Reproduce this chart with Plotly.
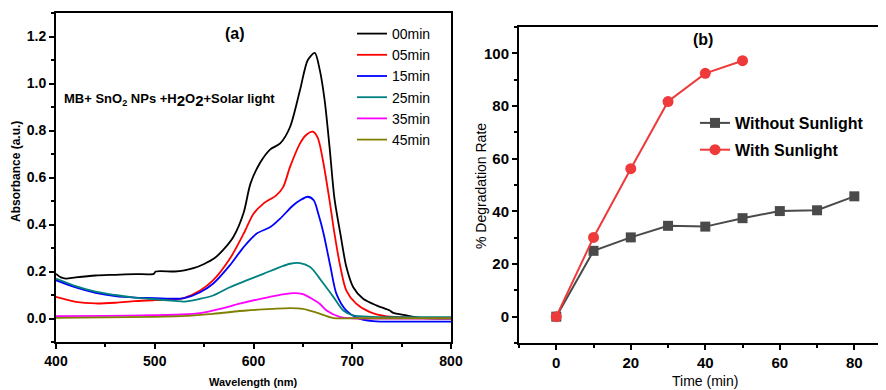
import plotly.graph_objects as go

# ---------------- Panel (a) data: UV-Vis spectra ----------------
series_names = ["00min", "05min", "15min", "25min", "35min", "45min"]
series_colors = ["#000000", "#ff0000", "#0000ff", "#008080", "#ff00ff", "#808000"]

wl_00 = [400, 405, 410, 420, 440, 460, 480, 499, 501, 520, 530, 540, 550, 560, 570, 580, 590, 597, 607, 617,
         627, 637, 647, 655, 662, 667, 672, 677, 682, 688, 694, 701, 711, 725, 738, 741, 755, 769, 785, 800]
ab_00 = [0.19, 0.175, 0.17, 0.175, 0.183, 0.186, 0.189, 0.19, 0.20, 0.20, 0.205, 0.215, 0.232, 0.255, 0.295,
         0.35, 0.45, 0.575, 0.665, 0.72, 0.745, 0.815, 0.97, 1.10, 1.13, 1.06, 0.93, 0.73, 0.51, 0.36, 0.22,
         0.133, 0.084, 0.055, 0.034, 0.025, 0.013, 0.003, 0.0, 0.0]

wl_05 = [400, 420, 440, 460, 480, 500, 520, 530, 546, 559, 576, 590, 600, 610, 623, 630, 637, 647, 653, 660,
         665, 670, 677, 682, 688, 694, 704, 718, 735, 760, 800]
ab_05 = [0.092, 0.071, 0.064, 0.067, 0.074, 0.078, 0.081, 0.088, 0.119, 0.162, 0.254, 0.361, 0.446, 0.489,
         0.524, 0.559, 0.645, 0.744, 0.78, 0.795, 0.77, 0.68, 0.503, 0.361, 0.219, 0.119, 0.063, 0.027, 0.009,
         0.004, 0.003]

wl_15 = [400, 420, 440, 460, 480, 500, 520, 530, 546, 559, 576, 590, 603, 617, 627, 640, 648, 655, 661, 666,
         671, 678, 684, 694, 705, 721, 760, 800]
ab_15 = [0.163, 0.132, 0.109, 0.095, 0.089, 0.087, 0.084, 0.087, 0.112, 0.148, 0.226, 0.304, 0.361, 0.389,
         0.425, 0.481, 0.505, 0.518, 0.503, 0.44, 0.361, 0.219, 0.105, 0.034, 0.003, -0.011, -0.013, -0.013]

wl_25 = [400, 420, 440, 460, 480, 500, 520, 530, 546, 559, 576, 593, 610, 627, 637, 647, 657, 661, 666, 671,
         681, 691, 701, 720, 800]
ab_25 = [0.17, 0.138, 0.114, 0.1, 0.089, 0.082, 0.075, 0.072, 0.084, 0.098, 0.133, 0.162, 0.19, 0.219, 0.233,
         0.236, 0.22, 0.204, 0.176, 0.148, 0.091, 0.034, 0.013, 0.007, 0.006]

wl_35 = [400, 450, 500, 526, 546, 566, 586, 607, 627, 640, 650, 660, 667, 674, 688, 700, 800]
ab_35 = [0.01, 0.011, 0.014, 0.017, 0.023, 0.041, 0.063, 0.084, 0.101, 0.108, 0.104, 0.082, 0.063, 0.034,
         0.006, 0.001, 0.0]

wl_45 = [400, 500, 526, 559, 593, 620, 637, 650, 664, 681, 700, 800]
ab_45 = [0.003, 0.007, 0.01, 0.02, 0.034, 0.041, 0.044, 0.041, 0.025, 0.002, 0.001, 0.001]

spectra_x = [wl_00, wl_05, wl_15, wl_25, wl_35, wl_45]
spectra_y = [ab_00, ab_05, ab_15, ab_25, ab_35, ab_45]

# ---------------- Panel (b) data: degradation ----------------
time_without = [0, 10, 20, 30, 40, 50, 60, 70, 80]
deg_without = [0, 25.0, 30.1, 34.5, 34.2, 37.4, 40.1, 40.4, 45.7]
time_with = [0, 10, 20, 30, 40, 50]
deg_with = [0, 30.1, 56.2, 81.7, 92.4, 97.2]

# The page body has a default 8px margin, so the figure is drawn 8px smaller
# and every position below is given in screen pixels minus that offset.
OFF = 8
W, H = 886 - OFF, 390 - OFF


def px(x):
    return (x - OFF) / W


def py(y):
    return 1 - (y - OFF) / H


fig = go.Figure()

for name, col, xs, ys in zip(series_names, series_colors, spectra_x, spectra_y):
    fig.add_trace(go.Scatter(
        x=xs, y=ys, mode="lines", name=name,
        line=dict(color=col, width=1.8, shape="spline", smoothing=0.8),
        xaxis="x", yaxis="y", legend="legend",
    ))

fig.add_trace(go.Scatter(
    x=time_without, y=deg_without, mode="lines+markers", name="Without Sunlight",
    line=dict(color="#4a4a4a", width=2),
    marker=dict(symbol="square", size=10, color="#4a4a4a"),
    xaxis="x2", yaxis="y2", legend="legend2", legendgroup="g1",
))
fig.add_trace(go.Scatter(
    x=time_with, y=deg_with, mode="lines+markers", name="With Sunlight",
    line=dict(color="#ee3a3a", width=2),
    marker=dict(symbol="circle", size=11, color="#ee3a3a"),
    xaxis="x2", yaxis="y2", legend="legend2", legendgroup="g2",
))

FONT = "Liberation Sans, Arial, sans-serif"


def axis_style(size):
    return dict(
        showline=True, linecolor="black", linewidth=2, showgrid=False, zeroline=False,
        ticks="outside", ticklen=5, tickwidth=1.5, tickcolor="black",
        tickfont=dict(family=FONT, size=size, color="black", weight="bold"),
        automargin=False,
    )


fig.update_layout(
    width=W, height=H,
    margin=dict(l=0, r=0, t=0, b=0),
    paper_bgcolor="white", plot_bgcolor="white",
    font=dict(family=FONT, color="black"),
    xaxis=dict(
        **axis_style(14), domain=[px(56), px(451)], range=[400, 800], anchor="y", mirror=True,
        tickvals=[400, 500, 600, 700, 800],
        minor=dict(ticks="outside", ticklen=3, tickcolor="black", dtick=50, tick0=400),
    ),
    yaxis=dict(
        **axis_style(14), domain=[py(342), py(13)], range=[-0.1, 1.3], anchor="x", mirror=True,
        tickvals=[0, 0.2, 0.4, 0.6, 0.8, 1.0, 1.2], tickformat=".1f",
        minor=dict(ticks="outside", ticklen=3, tickcolor="black", dtick=0.1, tick0=0),
    ),
    xaxis2=dict(
        **axis_style(15), domain=[px(519), 1.0], range=[-10, 88.5], anchor="y2", mirror=True,
        tickvals=[0, 20, 40, 60, 80],
        minor=dict(ticks="outside", ticklen=3, tickcolor="black", dtick=10, tick0=0),
    ),
    yaxis2=dict(
        **axis_style(15), domain=[py(343), py(27)], range=[-10, 110], anchor="x2", mirror=False,
        tickvals=[0, 20, 40, 60, 80, 100],
        minor=dict(ticks="outside", ticklen=3, tickcolor="black", dtick=10, tick0=0),
    ),
    legend=dict(
        x=px(352), y=py(18), xanchor="left", yanchor="top",
        bgcolor="rgba(0,0,0,0)", font=dict(family=FONT, size=14, color="black"),
        tracegroupgap=0,
    ),
    legend2=dict(
        x=px(695), y=py(106), xanchor="left", yanchor="top",
        bgcolor="rgba(0,0,0,0)", font=dict(family=FONT, size=16, color="black", weight="bold"),
        tracegroupgap=3,
    ),
    showlegend=True,
)


def label(x, y, text, size, angle=0, xanchor="center"):
    fig.add_annotation(xref="paper", yref="paper", x=px(x), y=py(y), showarrow=False,
                       xanchor=xanchor, yanchor="middle", textangle=angle, text=text,
                       font=dict(family=FONT, size=size, color="black"))


# axis titles
label(253, 382, "<b>Wavelength (nm)</b>", 11)
label(16, 172, "<b>Absorbance (a.u.)</b>", 12, angle=-90)
label(705, 381, "Time (min)", 14)
label(481, 186, "% Degradation Rate", 14, angle=-90)

# panel labels and caption
label(235, 33, "<b>(a)</b>", 16)
label(62, 100,
      "<b>MB+ SnO<sub>2</sub> NPs +H<sub><span style='font-size:15px'>2</span></sub>"
      "O<sub><span style='font-size:15px'>2</span></sub>+Solar light</b>", 13, xanchor="left")
label(703, 39, "<b>(b)</b>", 16)

fig.write_html("out.html")
